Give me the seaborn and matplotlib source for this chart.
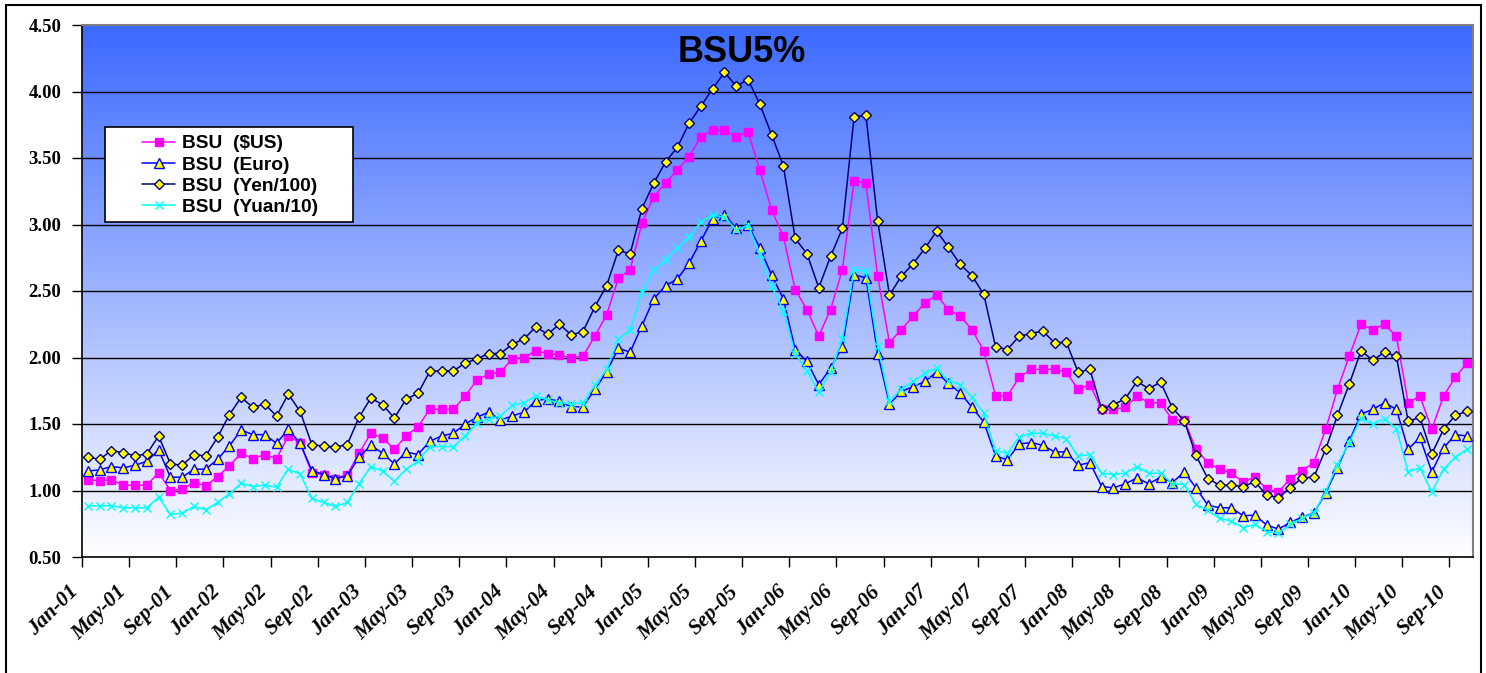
import numpy as np
import pandas as pd
import matplotlib
matplotlib.use("Agg")
import matplotlib.pyplot as plt
from matplotlib.patches import Rectangle
from matplotlib.colors import LinearSegmentedColormap
from matplotlib.transforms import ScaledTranslation
import seaborn as sns

# monthly BSU values, Jan-01 .. Oct-10
months = pd.date_range("2001-01-01", periods=118, freq="MS").strftime("%b-%y").tolist()

usd = [1.08, 1.075, 1.08, 1.04, 1.04, 1.04, 1.135, 1.00, 1.01, 1.06, 1.035, 1.105,
       1.185, 1.28, 1.24, 1.27, 1.24, 1.41, 1.36, 1.13, 1.12, 1.09, 1.12, 1.28,
       1.43, 1.395, 1.31, 1.41, 1.48, 1.61, 1.61, 1.61, 1.71, 1.83, 1.875, 1.89,
       1.99, 2.00, 2.05, 2.03, 2.02, 1.995, 2.01, 2.16, 2.32, 2.595, 2.66, 3.01,
       3.21, 3.31, 3.41, 3.51, 3.66, 3.71, 3.71, 3.66, 3.695, 3.41, 3.11, 2.91,
       2.51, 2.36, 2.16, 2.36, 2.66, 3.33, 3.31, 2.61, 2.11, 2.21, 2.31, 2.41,
       2.47, 2.36, 2.31, 2.21, 2.05, 1.71, 1.71, 1.85, 1.91, 1.91, 1.91, 1.89,
       1.76, 1.795, 1.61, 1.61, 1.625, 1.71, 1.66, 1.66, 1.53, 1.53, 1.31, 1.21,
       1.16, 1.13, 1.065, 1.10, 1.01, 0.99, 1.09, 1.15, 1.21, 1.46, 1.76, 2.01,
       2.25, 2.21, 2.25, 2.16, 1.66, 1.71, 1.46, 1.71, 1.85, 1.96]

euro = [1.147, 1.155, 1.18, 1.17, 1.19, 1.22, 1.305, 1.10, 1.10, 1.16, 1.16, 1.235,
        1.335, 1.455, 1.42, 1.42, 1.355, 1.46, 1.355, 1.15, 1.12, 1.09, 1.11, 1.25,
        1.34, 1.28, 1.20, 1.29, 1.27, 1.37, 1.41, 1.43, 1.50, 1.55, 1.59, 1.53,
        1.56, 1.59, 1.675, 1.69, 1.67, 1.63, 1.63, 1.76, 1.89, 2.07, 2.04, 2.24,
        2.44, 2.54, 2.59, 2.71, 2.875, 3.045, 3.075, 2.97, 2.995, 2.825, 2.62, 2.44,
        2.06, 1.97, 1.795, 1.92, 2.08, 2.62, 2.60, 2.03, 1.65, 1.745, 1.78, 1.82,
        1.89, 1.805, 1.735, 1.625, 1.515, 1.26, 1.23, 1.35, 1.36, 1.34, 1.29, 1.29,
        1.19, 1.21, 1.03, 1.02, 1.05, 1.095, 1.05, 1.10, 1.06, 1.14, 1.02, 0.89,
        0.87, 0.87, 0.81, 0.815, 0.74, 0.71, 0.76, 0.80, 0.83, 0.98, 1.17, 1.37,
        1.575, 1.61, 1.66, 1.61, 1.31, 1.40, 1.14, 1.32, 1.42, 1.41]

yen = [1.25, 1.235, 1.30, 1.285, 1.26, 1.275, 1.41, 1.20, 1.19, 1.27, 1.26, 1.40,
       1.57, 1.70, 1.625, 1.65, 1.56, 1.725, 1.595, 1.345, 1.333, 1.327, 1.345, 1.55,
       1.695, 1.645, 1.545, 1.687, 1.73, 1.895, 1.90, 1.90, 1.957, 1.99, 2.03, 2.03,
       2.10, 2.14, 2.23, 2.175, 2.25, 2.17, 2.195, 2.38, 2.54, 2.805, 2.78, 3.12,
       3.31, 3.47, 3.58, 3.76, 3.89, 4.02, 4.145, 4.04, 4.09, 3.905, 3.675, 3.44,
       2.895, 2.78, 2.525, 2.76, 2.97, 3.81, 3.82, 3.025, 2.47, 2.61, 2.705, 2.82,
       2.95, 2.83, 2.70, 2.615, 2.475, 2.08, 2.06, 2.16, 2.18, 2.20, 2.11, 2.115,
       1.89, 1.91, 1.61, 1.645, 1.69, 1.82, 1.765, 1.815, 1.62, 1.525, 1.265, 1.09,
       1.04, 1.04, 1.03, 1.065, 0.965, 0.945, 1.02, 1.095, 1.10, 1.31, 1.565, 1.80,
       2.05, 1.98, 2.04, 2.01, 1.52, 1.55, 1.275, 1.46, 1.565, 1.595]

yuan = [0.885, 0.885, 0.885, 0.87, 0.87, 0.87, 0.95, 0.82, 0.83, 0.88, 0.855, 0.91,
        0.975, 1.055, 1.03, 1.04, 1.025, 1.16, 1.125, 0.94, 0.91, 0.88, 0.91, 1.05,
        1.18, 1.145, 1.07, 1.16, 1.22, 1.33, 1.33, 1.33, 1.41, 1.51, 1.54, 1.56,
        1.64, 1.66, 1.71, 1.68, 1.66, 1.65, 1.66, 1.79, 1.91, 2.14, 2.205, 2.49,
        2.655, 2.73, 2.825, 2.905, 3.02, 3.07, 3.055, 2.96, 2.995, 2.775, 2.54, 2.35,
        2.03, 1.90, 1.74, 1.89, 2.14, 2.66, 2.65, 2.09, 1.67, 1.76, 1.82, 1.88,
        1.92, 1.825, 1.795, 1.70, 1.58, 1.30, 1.28, 1.40, 1.43, 1.43, 1.41, 1.39,
        1.26, 1.27, 1.13, 1.12, 1.13, 1.18, 1.13, 1.13, 1.05, 1.045, 0.895, 0.85,
        0.79, 0.77, 0.72, 0.745, 0.69, 0.68, 0.745, 0.79, 0.83, 0.99, 1.195, 1.36,
        1.545, 1.50, 1.54, 1.465, 1.14, 1.17, 0.99, 1.16, 1.25, 1.31]

labels = ["BSU  ($US)", "BSU  (Euro)", "BSU  (Yen/100)", "BSU  (Yuan/10)"]

sns.set_style("ticks")
plt.rcParams["font.family"] = ["Liberation Sans", "DejaVu Sans"]
plt.rcParams["text.color"] = "black"
plt.rcParams["xtick.color"] = "black"
plt.rcParams["ytick.color"] = "black"

fig = plt.figure(figsize=(14.86, 6.73), dpi=100)
W, H = 1486, 673
ax = fig.add_axes([82 / W, 1 - 557 / H, 1391 / W, 532 / H])

# blue -> white gradient plot background
cmap = LinearSegmentedColormap.from_list("bg", ["#ffffff", "#3c69ff"])
grad = np.linspace(0, 1, 256).reshape(-1, 1)
ax.imshow(grad, cmap=cmap, aspect="auto", origin="lower",
          extent=[0, 1, 0, 1], transform=ax.transAxes, zorder=0)

x = np.arange(len(months))
styles = [
    (usd, "#ff00ff", "s", 6.0, "#ff00ff", "#ff00ff"),
    (euro, "#0000ff", "^", 6.5, "#ffff00", "#0000ff"),
    (yen, "#000080", "D", 5.0, "#ffff00", "#000080"),
    (yuan, "#00ffff", "x", 5.5, "#00ffff", "#00ffff"),
]
for (vals, col, mk, ms, fc, ec), lab in zip(styles, labels):
    sns.lineplot(x=x, y=vals, ax=ax, color=col, linewidth=1.1, marker=mk,
                 markersize=ms, markerfacecolor=fc, markeredgecolor=ec,
                 markeredgewidth=1.0, label=lab, zorder=3)

ax.set_xlim(-0.5, len(months) - 0.5)
ax.set_ylim(0.5, 4.5)
ax.set_yticks(np.arange(0.5, 4.51, 0.5))
ax.set_yticklabels([f"{v:.2f}" for v in np.arange(0.5, 4.51, 0.5)],
                   family="Liberation Serif", fontweight="bold", fontsize=13.5)
for v in np.arange(1.0, 4.01, 0.5):
    ax.axhline(v, color="black", linewidth=1.0, zorder=1)

lab_pos = np.arange(0, len(months), 4)
ax.set_xticks(lab_pos)
ax.set_xticklabels([months[i] for i in lab_pos], rotation=45, ha="right",
                   va="center", rotation_mode="anchor", family="Liberation Serif",
                   fontweight="bold", fontstyle="italic", fontsize=15.5)
ax.tick_params(axis="x", which="major", length=0, pad=23)
shift = ScaledTranslation(-0.12, 0, fig.dpi_scale_trans)
for t in ax.get_xticklabels():
    t.set_transform(t.get_transform() + shift)
ax.set_xticks(np.arange(-0.5, len(months) - 1, 4), minor=True)
ax.tick_params(axis="x", which="minor", length=7, width=1, color="black")
ax.tick_params(axis="y", length=7, width=1, color="black", pad=8)
ax.set_xlabel("")
ax.set_ylabel("")

for s in ["top", "right"]:
    ax.spines[s].set_color("#808080")
    ax.spines[s].set_linewidth(1.5)
for s in ["left", "bottom"]:
    ax.spines[s].set_color("black")
    ax.spines[s].set_linewidth(1.2)

# legend box
ax.get_legend().remove()
handles, labs = ax.get_legend_handles_labels()
fig.patches.append(Rectangle((105 / W, 1 - 222 / H), 248 / W, 95 / H,
                             transform=fig.transFigure, facecolor="white",
                             edgecolor="black", linewidth=1.2, zorder=4))
leg = fig.legend(handles, labs, loc="center",
                 bbox_to_anchor=(230 / W, 1 - 175.5 / H), frameon=False,
                 prop={"family": "Liberation Sans", "weight": "bold", "size": 13.8},
                 handlelength=1.7, labelspacing=0.2, handletextpad=0.35)
leg.set_zorder(5)

fig.text(742 / W, 1 - 53 / H, "BSU5%", ha="center", va="center", color="black",
         fontsize=26, fontweight="bold", family="Liberation Sans", zorder=6)

# chart frame
fig.patches.append(Rectangle((6 / W, -0.05), 1475 / W, 1.05 - 5 / H,
                             transform=fig.transFigure, fill=False,
                             edgecolor="black", linewidth=1.5, zorder=0))

fig.savefig("out.png", dpi=100, facecolor="white")
